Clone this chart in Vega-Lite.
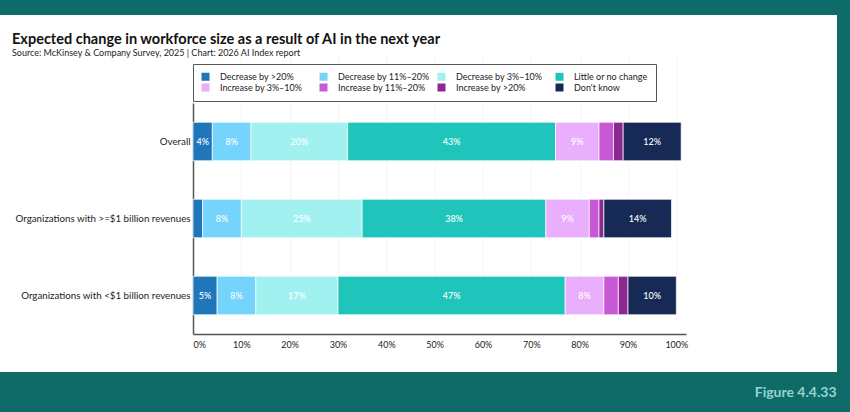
{
  "$schema": "https://vega.github.io/schema/vega-lite/v6.json",
  "width": 837,
  "height": 357,
  "autosize": {"type": "none"},
  "padding": {"left": 0, "top": 15, "right": 13, "bottom": 40},
  "background": "#0E6B67",
  "config": {
    "font": "Lato",
    "view": {"fill": "white", "stroke": null}
  },
  "title": {
    "text": "Expected change in workforce size as a result of AI in the next year",
    "subtitle": "Source: McKinsey & Company Survey, 2025 | Chart: 2026 AI Index report",
    "anchor": "start",
    "frame": "group",
    "dx": 12,
    "offset": -44,
    "fontSize": 14.5,
    "fontWeight": "bold",
    "color": "#111111",
    "subtitleFontSize": 9,
    "subtitleColor": "#222222",
    "subtitlePadding": 2
  },
  "data": {
    "values": [
      {"group": "Overall", "category": "Decrease by >20%", "order": 1, "value": 4},
      {"group": "Overall", "category": "Decrease by 11%–20%", "order": 2, "value": 8},
      {"group": "Overall", "category": "Decrease by 3%–10%", "order": 3, "value": 20},
      {"group": "Overall", "category": "Little or no change", "order": 4, "value": 43},
      {"group": "Overall", "category": "Increase by 3%–10%", "order": 5, "value": 9},
      {"group": "Overall", "category": "Increase by 11%–20%", "order": 6, "value": 3},
      {"group": "Overall", "category": "Increase by >20%", "order": 7, "value": 2},
      {"group": "Overall", "category": "Don't know", "order": 8, "value": 12},
      {"group": "Organizations with >=$1 billion revenues", "category": "Decrease by >20%", "order": 1, "value": 2},
      {"group": "Organizations with >=$1 billion revenues", "category": "Decrease by 11%–20%", "order": 2, "value": 8},
      {"group": "Organizations with >=$1 billion revenues", "category": "Decrease by 3%–10%", "order": 3, "value": 25},
      {"group": "Organizations with >=$1 billion revenues", "category": "Little or no change", "order": 4, "value": 38},
      {"group": "Organizations with >=$1 billion revenues", "category": "Increase by 3%–10%", "order": 5, "value": 9},
      {"group": "Organizations with >=$1 billion revenues", "category": "Increase by 11%–20%", "order": 6, "value": 2},
      {"group": "Organizations with >=$1 billion revenues", "category": "Increase by >20%", "order": 7, "value": 1},
      {"group": "Organizations with >=$1 billion revenues", "category": "Don't know", "order": 8, "value": 14},
      {"group": "Organizations with <$1 billion revenues", "category": "Decrease by >20%", "order": 1, "value": 5},
      {"group": "Organizations with <$1 billion revenues", "category": "Decrease by 11%–20%", "order": 2, "value": 8},
      {"group": "Organizations with <$1 billion revenues", "category": "Decrease by 3%–10%", "order": 3, "value": 17},
      {"group": "Organizations with <$1 billion revenues", "category": "Little or no change", "order": 4, "value": 47},
      {"group": "Organizations with <$1 billion revenues", "category": "Increase by 3%–10%", "order": 5, "value": 8},
      {"group": "Organizations with <$1 billion revenues", "category": "Increase by 11%–20%", "order": 6, "value": 3},
      {"group": "Organizations with <$1 billion revenues", "category": "Increase by >20%", "order": 7, "value": 2},
      {"group": "Organizations with <$1 billion revenues", "category": "Don't know", "order": 8, "value": 10}
    ]
  },
  "transform": [
    {"stack": "value", "groupby": ["group"], "sort": [{"field": "order", "order": "ascending"}], "as": ["v0", "v1"]},
    {"calculate": "(datum.v0 + datum.v1) / 2", "as": "mid"},
    {"calculate": "datum.value + '%'", "as": "label"}
  ],
  "encoding": {
    "y": {
      "field": "group",
      "type": "nominal",
      "sort": ["Overall", "Organizations with >=$1 billion revenues", "Organizations with <$1 billion revenues"],
      "scale": {"range": [88, 319], "paddingInner": 0.5, "paddingOuter": 0.25},
      "axis": {
        "title": null,
        "offset": -193,
        "domainColor": "#555555",
        "domainWidth": 1.5,
        "ticks": false,
        "labelFontSize": 9.75,
        "labelColor": "#222222",
        "labelPadding": 3,
        "labelLimit": 300
      }
    }
  },
  "layer": [
    {
      "mark": {"type": "bar", "stroke": "white", "strokeWidth": 0.7},
      "encoding": {
        "x": {
          "field": "v0",
          "type": "quantitative",
          "scale": {"domain": [0, 102], "range": [193, 686], "nice": false, "zero": false},
          "axis": {
            "title": "Figure 4.4.33",
            "titleX": 836,
            "titleY": 62,
            "titleAlign": "right",
            "titleAnchor": null,
            "titleBaseline": "alphabetic",
            "titleColor": "#93D5CF",
            "titleFontSize": 14,
            "titleFontWeight": "bold",
            "offset": -38,
            "values": [0, 10, 20, 30, 40, 50, 60, 70, 80, 90, 100],
            "labelExpr": "datum.value + '%'",
            "domainColor": "#555555",
            "domainWidth": 1.5,
            "ticks": false,
            "labelFontSize": 9,
            "labelColor": "#222222",
            "labelPadding": 6,
            "gridColor": "#eeeeee",
            "gridWidth": 0.6
          }
        },
        "x2": {"field": "v1"},
        "color": {
          "field": "category",
          "type": "nominal",
          "sort": ["Decrease by >20%", "Decrease by 11%–20%", "Decrease by 3%–10%", "Little or no change", "Increase by 3%–10%", "Increase by 11%–20%", "Increase by >20%", "Don't know"],
          "scale": {
            "domain": ["Decrease by >20%", "Decrease by 11%–20%", "Decrease by 3%–10%", "Little or no change", "Increase by 3%–10%", "Increase by 11%–20%", "Increase by >20%", "Don't know"],
            "range": ["#1F77BA", "#74D4FC", "#A1F1F1", "#1FC4BA", "#EAAFFC", "#C859D6", "#8D2892", "#172A56"]
          },
          "legend": {
            "title": null,
            "orient": "none",
            "legendX": 193,
            "legendY": 49,
            "direction": "horizontal",
            "columns": 4,
            "gridAlign": "all",
            "symbolType": "square",
            "symbolSize": 64,
            "symbolStrokeWidth": 0,
            "labelFontSize": 9,
            "labelColor": "#222222",
            "labelOffset": 10,
            "columnPadding": 7,
            "rowPadding": 1,
            "padding": 8,
            "strokeColor": "#555555",
            "fillColor": "white"
          }
        }
      }
    },
    {
      "transform": [{"filter": "datum.value >= 4"}],
      "mark": {"type": "text", "color": "white", "fontSize": 9, "fontWeight": 500},
      "encoding": {
        "x": {"field": "mid", "type": "quantitative"},
        "text": {"field": "label", "type": "nominal"}
      }
    }
  ]
}
